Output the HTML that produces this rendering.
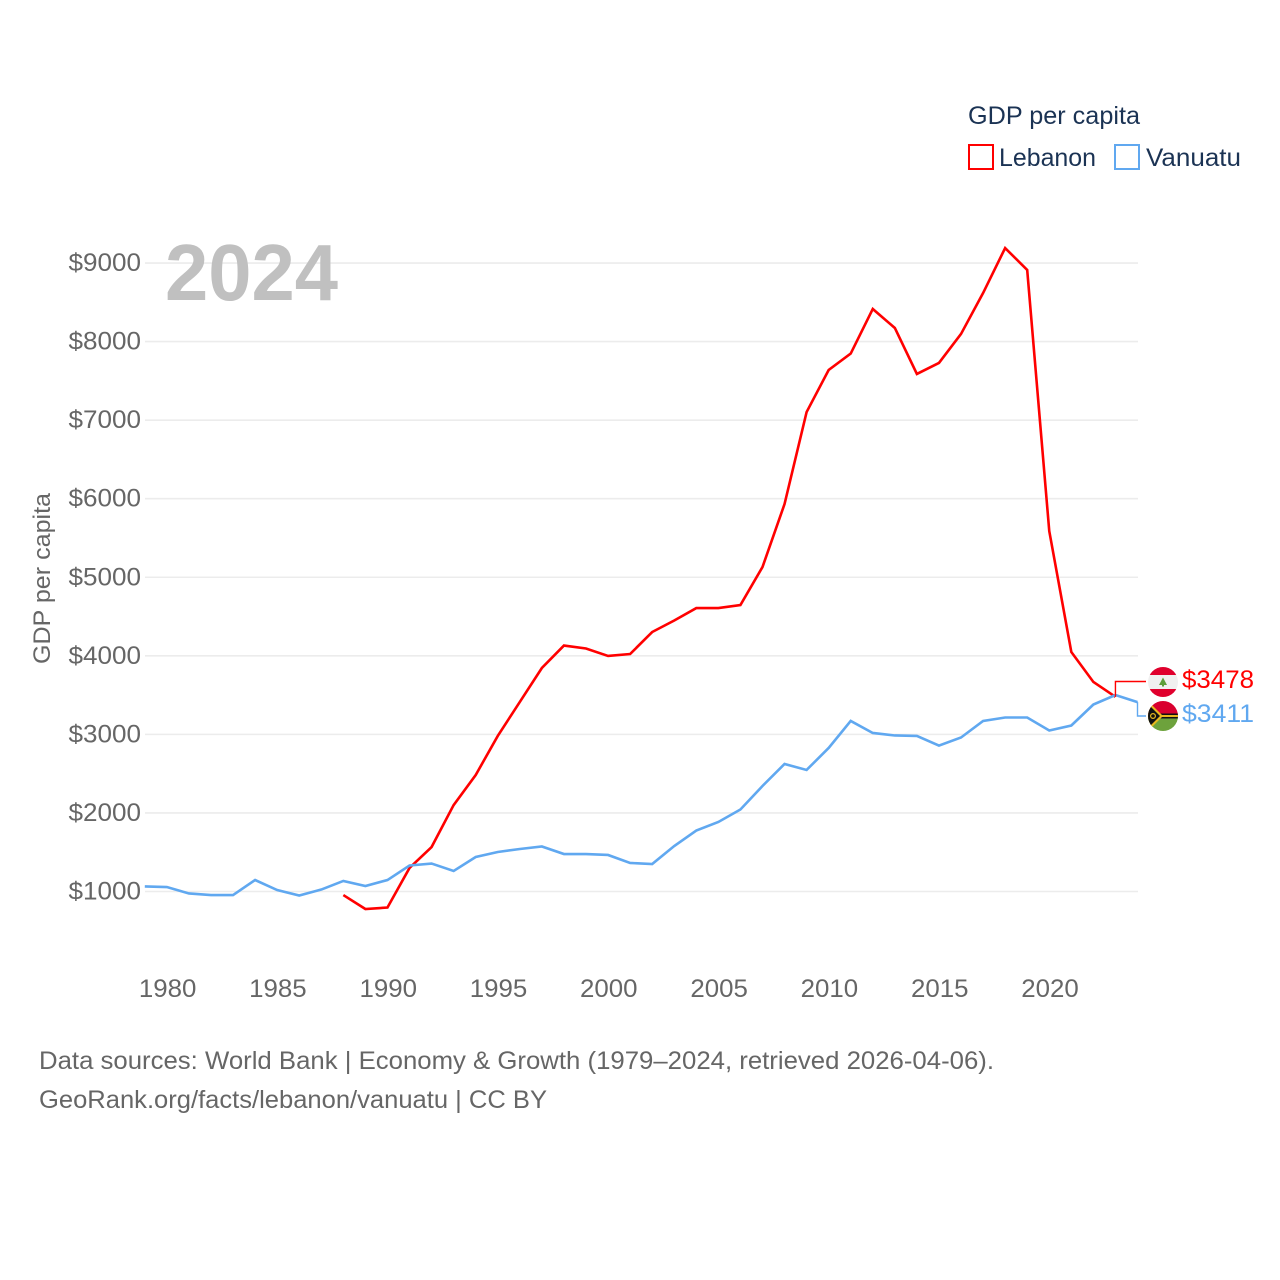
<!DOCTYPE html>
<html lang="en">
<head>
<meta charset="utf-8">
<title>GDP per capita: Lebanon and Vanuatu</title>
<style>
html,body{margin:0;padding:0;background:#fff;}
body{width:1280px;height:1280px;overflow:hidden;}
svg{display:block;}
text{font-family:"Liberation Sans",sans-serif;}
</style>
</head>
<body>
<svg id="chart" xmlns="http://www.w3.org/2000/svg" width="1280" height="1280" viewBox="0 0 1280 1280">
  <rect x="0" y="0" width="1280" height="1280" fill="#fff"/>
  <g id="grid"></g>
  <g id="yticks"></g>
  <g id="xticks"></g>
  <text x="165" y="300" font-size="80" font-weight="700" fill="#c0c0c0" textLength="173" lengthAdjust="spacingAndGlyphs">2024</text>
  <text transform="translate(50,664) rotate(-90)" font-size="24" fill="#666" textLength="171" lengthAdjust="spacingAndGlyphs">GDP per capita</text>
  <g id="series"></g>
  <g id="ends"></g>
  <g>
    <clipPath id="clipLb"><circle cx="1163" cy="682" r="15"/></clipPath>
    <g clip-path="url(#clipLb)">
      <rect x="1148" y="667" width="30" height="30" fill="#f0f0f0"/>
      <rect x="1148" y="667" width="30" height="8" fill="#e0002d"/>
      <rect x="1148" y="689" width="30" height="8" fill="#e0002d"/>
      <polygon points="1163,677.5 1167,685 1159,685" fill="#5e9e3a"/>
      <rect x="1162" y="684" width="2" height="2.5" fill="#5e9e3a"/>
    </g>
  </g>
  <g>
    <clipPath id="clipVu"><circle cx="1163" cy="716" r="15"/></clipPath>
    <g clip-path="url(#clipVu)">
      <rect x="1148" y="701" width="30" height="15" fill="#d9002f"/>
      <rect x="1148" y="716" width="30" height="15" fill="#6da23c"/>
      <rect x="1160" y="713.5" width="18" height="5" fill="#111"/>
      <rect x="1160" y="715" width="18" height="2" fill="#e8b81e"/>
      <polygon points="1148,701 1163,716 1148,731" fill="#e8b81e"/>
      <polygon points="1148,704 1160,716 1148,728" fill="#111"/>
      <circle cx="1153" cy="716" r="2.4" fill="none" stroke="#e8b81e" stroke-width="1.2"/>
    </g>
  </g>
  <g>
    <text x="968" y="124" font-size="25" fill="#1b3354" textLength="172" lengthAdjust="spacingAndGlyphs">GDP per capita</text>
    <g>
      <rect x="969" y="145" width="24" height="24" fill="#fff" stroke="#ff0000" stroke-width="2"/>
      <text x="999" y="166" font-size="25" fill="#1b3354" textLength="97" lengthAdjust="spacingAndGlyphs">Lebanon</text>
    </g>
    <g>
      <rect x="1115" y="145" width="24" height="24" fill="#fff" stroke="#60a8f0" stroke-width="2"/>
      <text x="1146" y="166" font-size="25" fill="#1b3354" textLength="95" lengthAdjust="spacingAndGlyphs">Vanuatu</text>
    </g>
  </g>
  <text x="39" y="1069" font-size="25" fill="#666" textLength="955" lengthAdjust="spacingAndGlyphs">Data sources: World Bank | Economy &amp; Growth (1979–2024, retrieved 2026-04-06).</text>
  <text x="39" y="1108" font-size="25" fill="#666" textLength="508" lengthAdjust="spacingAndGlyphs">GeoRank.org/facts/lebanon/vanuatu | CC BY</text>
</svg>
<script>
const years = [1979,1980,1981,1982,1983,1984,1985,1986,1987,1988,1989,1990,1991,1992,1993,1994,1995,1996,1997,1998,1999,2000,2001,2002,2003,2004,2005,2006,2007,2008,2009,2010,2011,2012,2013,2014,2015,2016,2017,2018,2019,2020,2021,2022,2023,2024];
const lebanon = [null,null,null,null,null,null,null,null,null,955,777,796,1300,1566,2100,2483,2980,3413,3845,4131,4093,3998,4023,4303,4450,4608,4608,4647,5130,5932,7103,7638,7848,8415,8173,7588,7728,8097,8618,9191,8911,5588,4049,3667,3478,null];
const vanuatu = [1064,1057,975,955,955,1146,1019,949,1025,1134,1070,1146,1331,1356,1261,1439,1503,1541,1573,1477,1477,1465,1363,1350,1579,1776,1885,2044,2343,2623,2547,2827,3171,3018,2986,2980,2858,2960,3171,3215,3215,3049,3113,3380,3501,3411];
const yTickValues = [1000,2000,3000,4000,5000,6000,7000,8000,9000];
const xTickValues = [1980,1985,1990,1995,2000,2005,2010,2015,2020];

const NS = 'http://www.w3.org/2000/svg';
const RED = '#ff0000';
const BLUE = '#60a8f0';
const xScale = function (yr) { return 144.8 + (yr - 1979) * 22.06; };
const yScale = function (v) { return 891.5 - (v - 1000) * 0.07856; };
const make = function (tag, attrs, parent, txt) {
  const el = document.createElementNS(NS, tag);
  for (const k in attrs) el.setAttribute(k, attrs[k]);
  if (txt !== undefined) el.textContent = txt;
  parent.appendChild(el);
  return el;
};

const grid = document.getElementById('grid');
const yticks = document.getElementById('yticks');
yTickValues.forEach(function (v) {
  const line = make('line', {x1: 145, x2: 1138, y1: yScale(v), y2: yScale(v), stroke: '#ececec', 'stroke-width': 1.6}, grid);
  
  
  const label = make('text', {x: 68.5, y: yScale(v) + 8, 'font-size': 25, fill: '#666', textLength: 72.5, lengthAdjust: 'spacingAndGlyphs'}, yticks, '$' + v);
  
  
});

const xticks = document.getElementById('xticks');
xTickValues.forEach(function (yr) {
  const label = make('text', {x: xScale(yr) - 28, y: 997, 'font-size': 25, fill: '#666', textLength: 57.5, lengthAdjust: 'spacingAndGlyphs'}, xticks, String(yr));
  
  
});

const seriesGroup = document.getElementById('series');
const ends = document.getElementById('ends');
const pathFor = function (values) {
  let d = '';
  let pen = false;
  values.forEach(function (v, i) {
    if (v === null) { pen = false; return; }
    d += (pen ? 'L' : 'M') + xScale(years[i]).toFixed(2) + ' ' + yScale(v).toFixed(2);
    pen = true;
  });
  return d;
};
const lastPoint = function (values) {
  for (let i = values.length - 1; i >= 0; i--) {
    if (values[i] !== null) return {x: xScale(years[i]), y: yScale(values[i]), v: values[i]};
  }
  return null;
};

const lebLine = make('path', {d: pathFor(lebanon), fill: 'none', stroke: RED, 'stroke-width': 2.6, 'stroke-linejoin': 'miter'}, seriesGroup);


const vanLine = make('path', {d: pathFor(vanuatu), fill: 'none', stroke: BLUE, 'stroke-width': 2.6, 'stroke-linejoin': 'miter'}, seriesGroup);



const lebEnd = lastPoint(lebanon);
const vanEnd = lastPoint(vanuatu);
const lebConn = make('path', {d: 'M' + lebEnd.x + ' ' + lebEnd.y + 'V681.5H1146', fill: 'none', stroke: RED, 'stroke-width': 1.4}, ends);


const vanConn = make('path', {d: 'M' + vanEnd.x + ' ' + vanEnd.y + 'V716H1146', fill: 'none', stroke: BLUE, 'stroke-width': 1.4}, ends);


const lebLabel = make('text', {x: 1182, y: 688, 'font-size': 25, fill: RED, textLength: 72, lengthAdjust: 'spacingAndGlyphs'}, ends, '$' + lebEnd.v);


const vanLabel = make('text', {x: 1182, y: 722, 'font-size': 25, fill: BLUE, textLength: 72, lengthAdjust: 'spacingAndGlyphs'}, ends, '$' + vanEnd.v);


</script>
</body>
</html>
